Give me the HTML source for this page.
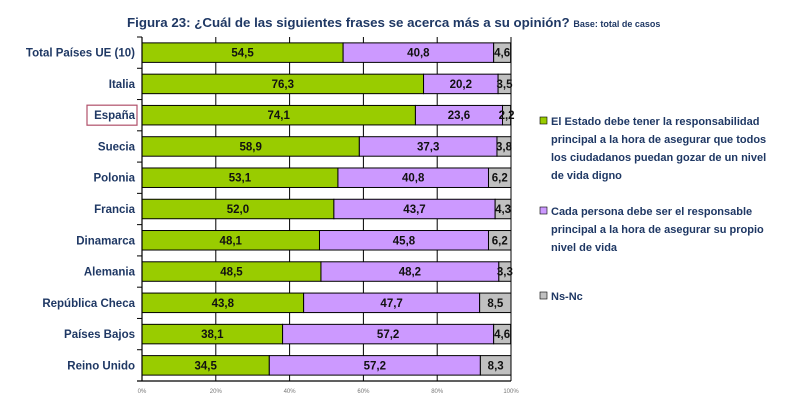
<!DOCTYPE html>
<html><head><meta charset="utf-8"><style>
body{margin:0;background:#fff;width:810px;height:401px;overflow:hidden;font-family:"Liberation Sans",sans-serif}
svg{display:block}
.cat{font-weight:bold;font-size:11.5px;fill:#1f3864}
.val{font-weight:bold;font-size:11.5px;fill:#111}
.leg{font-weight:bold;font-size:11px;fill:#1f3864}
</style></head><body>
<svg id="c" width="810" height="401">
<text x="127" y="27" font-weight="bold" font-size="13.3" fill="#1f3864">Figura 23: ¿Cuál de las siguientes frases se acerca más a su opinión? <tspan font-size="9">Base: total de casos</tspan></text>
<g id="plot"></g>
<g>
<rect x="540" y="117" width="7" height="7" fill="#99cc00" stroke="#000" stroke-width="0.6"/>
<text class="leg" x="551" y="125"><tspan x="551">El Estado debe tener la responsabilidad</tspan><tspan x="551" dy="18">principal a la hora de asegurar que todos</tspan><tspan x="551" dy="18">los ciudadanos puedan gozar de un nivel</tspan><tspan x="551" dy="18">de vida digno</tspan></text>
<rect x="540" y="207" width="7" height="7" fill="#cc99ff" stroke="#000" stroke-width="0.6"/>
<text class="leg" x="551" y="215"><tspan x="551">Cada persona debe ser el responsable</tspan><tspan x="551" dy="18">principal a la hora de asegurar su propio</tspan><tspan x="551" dy="18">nivel de vida</tspan></text>
<rect x="540" y="292" width="7" height="7" fill="#c0c0c0" stroke="#000" stroke-width="0.6"/>
<text class="leg" x="551" y="300">Ns-Nc</text>
</g>
</svg>
<script>
const categories=["Total Países UE (10)","Italia","España","Suecia","Polonia","Francia","Dinamarca","Alemania","República Checa","Países Bajos","Reino Unido"];
const estado=[54.5,76.3,74.1,58.9,53.1,52.0,48.1,48.5,43.8,38.1,34.5];
const persona=[40.8,20.2,23.6,37.3,40.8,43.7,45.8,48.2,47.7,57.2,57.2];
const nsnc=[4.6,3.5,2.2,3.8,6.2,4.3,6.2,3.3,8.5,4.6,8.3];
const ticks=[0,20,40,60,80,100];
const NS="http://www.w3.org/2000/svg";
const g=document.getElementById('plot');
const X0=142,X1=511,T=37,B=381;
const rowH=(B-T)/categories.length,barH=19.5;
const x=v=>X0+(X1-X0)*Math.min(v,100)/100;
function mk(t,a,p){const e=document.createElementNS(NS,t);for(const k in a)e.setAttribute(k,a[k]);(p||g).appendChild(e);return e;}
ticks.forEach((t,i)=>{
 const l=mk('line',{x1:x(t),x2:x(t),y1:T,y2:B,stroke:'#000','stroke-width':1});
 
 
 const tx=mk('text',{x:x(t),y:393,'text-anchor':'middle','font-size':6,fill:'#777'});
 tx.textContent=t+'%';
 
 
});
mk('line',{x1:X0-5,x2:X1,y1:B,y2:B,stroke:'#000','stroke-width':1.2});
for(let i=0;i<=categories.length;i++){const y=T+rowH*i;mk('line',{x1:X0-5,x2:X0,y1:y,y2:y,stroke:'#000'});}
const series=[[estado,'#99cc00','estado'],[persona,'#cc99ff','persona'],[nsnc,'#c0c0c0','nsnc']];
categories.forEach((c,i)=>{
 const yc=T+rowH*(i+0.5),y=yc-barH/2;
 let acc=0;
 series.forEach(([arr,col,nm])=>{
  const v=arr[i],a=x(acc),b=x(acc+v);
  const r=mk('rect',{x:a,y:y,width:Math.max(0,b-a),height:barH,fill:col,stroke:'#000','stroke-width':1});
  
  
  const t=mk('text',{x:(a+b)/2,y:yc+4,'text-anchor':'middle',class:'val'});
  t.textContent=v.toFixed(1).replace('.',',');
  
  
  acc+=v;
 });
 const t=mk('text',{x:135,y:yc+4,'text-anchor':'end',class:'cat'});
 t.textContent=c;
 
 
 if(c==='España'){
  const bx=mk('rect',{x:87,y:yc-10,width:50,height:20,fill:'none',stroke:'#b0506a','stroke-width':1.2});
  
  
 }
});
mk('line',{x1:X0,x2:X0,y1:T,y2:B,stroke:'#000','stroke-width':1.2});
</script>
</body></html>
